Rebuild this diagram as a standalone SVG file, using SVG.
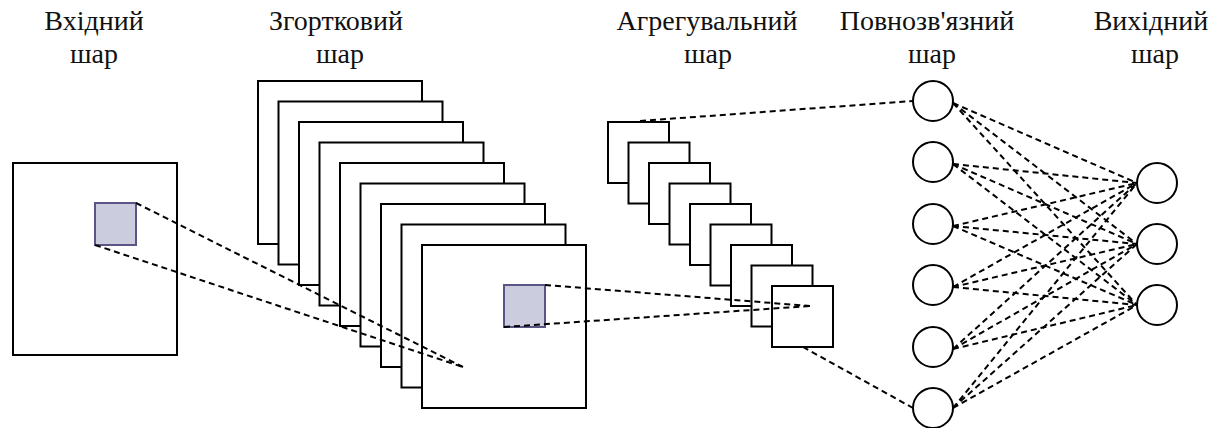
<svg xmlns="http://www.w3.org/2000/svg" width="1223" height="428" viewBox="0 0 1223 428">
  <style>
    .lbl { font-size: 28px; fill: #111; text-anchor: middle; }
    .map { fill: #fff; stroke: #000; stroke-width: 2; }
    .win { fill: #ccccdf; stroke: #5a5585; stroke-width: 2; }
    .unit { fill: #fff; stroke: #000; stroke-width: 2; }
    .link { fill: none; stroke: #000; stroke-width: 2; stroke-dasharray: 6 4; }
  </style>
  <rect width="1223" height="428" fill="#fff"/>

  <!-- layer titles -->
  <g id="titles" font-family="Liberation Serif, Times New Roman, DejaVu Serif, serif">
    <text class="lbl" x="94" y="30">Вхідний</text>
    <text class="lbl" x="94" y="63">шар</text>
    <text class="lbl" x="336" y="30">Згортковий</text>
    <text class="lbl" x="340" y="63">шар</text>
    <text class="lbl" x="707" y="30">Агрегувальний</text>
    <text class="lbl" x="708" y="63">шар</text>
    <text class="lbl" x="927" y="30">Повнозв'язний</text>
    <text class="lbl" x="932" y="63">шар</text>
    <text class="lbl" x="1151" y="30">Вихідний</text>
    <text class="lbl" x="1155" y="63">шар</text>
  </g>

  <!-- input image with receptive field -->
  <g id="input">
    <rect class="map" x="13" y="163" width="164" height="192"/>
    <rect class="win" x="95" y="203" width="41" height="42"/>
  </g>

  <!-- convolution feature maps, back to front -->
  <g id="conv">
    <rect class="map" x="258" y="81" width="164" height="163"/>
    <rect class="map" x="278.5" y="101.5" width="164" height="163"/>
    <rect class="map" x="299" y="122" width="164" height="163"/>
    <rect class="map" x="319.5" y="142.5" width="164" height="163"/>
    <rect class="map" x="340" y="163" width="164" height="163"/>
    <rect class="map" x="360.5" y="183.5" width="164" height="163"/>
    <rect class="map" x="381" y="204" width="164" height="163"/>
    <rect class="map" x="401.5" y="224.5" width="164" height="163"/>
    <rect class="map" x="422" y="245" width="164" height="163"/>
    <rect class="win" x="504" y="285" width="41" height="42"/>
  </g>

  <!-- pooling maps, back to front -->
  <g id="pool">
    <rect class="map" x="608" y="122" width="61" height="61"/>
    <rect class="map" x="628.5" y="142.5" width="61" height="61"/>
    <rect class="map" x="649" y="163" width="61" height="61"/>
    <rect class="map" x="669.5" y="183.5" width="61" height="61"/>
    <rect class="map" x="690" y="204" width="61" height="61"/>
    <rect class="map" x="710.5" y="224.5" width="61" height="61"/>
    <rect class="map" x="731" y="245" width="61" height="61"/>
    <rect class="map" x="751.5" y="265.5" width="61" height="61"/>
    <rect class="map" x="772" y="286" width="61" height="61"/>
  </g>

  <!-- fully connected units -->
  <g id="fc1"><circle class="unit" cx="933" cy="101" r="20"/></g>
  <g id="fc2"><circle class="unit" cx="933" cy="162" r="20"/></g>
  <g id="fc3"><circle class="unit" cx="933" cy="224" r="20"/></g>
  <g id="fc4"><circle class="unit" cx="933" cy="285" r="20"/></g>
  <g id="fc5"><circle class="unit" cx="933" cy="347" r="20"/></g>
  <g id="fc6"><circle class="unit" cx="933" cy="408" r="20"/></g>

  <!-- output units -->
  <g id="out1"><circle class="unit" cx="1157" cy="183" r="20"/></g>
  <g id="out2"><circle class="unit" cx="1157" cy="244" r="20"/></g>
  <g id="out3"><circle class="unit" cx="1157" cy="305" r="20"/></g>

  <!-- connectors -->
  <g id="connectors">
    <line class="link" x1="136" y1="203" x2="463" y2="367"/>
    <line class="link" x1="95" y1="245" x2="463" y2="367"/>
    <line class="link" x1="545" y1="285" x2="810" y2="306"/>
    <line class="link" x1="504" y1="327" x2="810" y2="306"/>
    <line class="link" x1="640" y1="121" x2="913" y2="101"/>
    <line class="link" x1="803" y1="347" x2="913" y2="408"/>

    <line class="link" x1="953" y1="103" x2="1137" y2="183"/>
    <line class="link" x1="953" y1="103" x2="1137" y2="244"/>
    <line class="link" x1="953" y1="103" x2="1137" y2="305"/>
    <line class="link" x1="953" y1="164" x2="1137" y2="183"/>
    <line class="link" x1="953" y1="164" x2="1137" y2="244"/>
    <line class="link" x1="953" y1="164" x2="1137" y2="305"/>
    <line class="link" x1="953" y1="226" x2="1137" y2="183"/>
    <line class="link" x1="953" y1="226" x2="1137" y2="244"/>
    <line class="link" x1="953" y1="226" x2="1137" y2="305"/>
    <line class="link" x1="953" y1="287" x2="1137" y2="183"/>
    <line class="link" x1="953" y1="287" x2="1137" y2="244"/>
    <line class="link" x1="953" y1="287" x2="1137" y2="305"/>
    <line class="link" x1="953" y1="349" x2="1137" y2="183"/>
    <line class="link" x1="953" y1="349" x2="1137" y2="244"/>
    <line class="link" x1="953" y1="349" x2="1137" y2="305"/>
    <line class="link" x1="953" y1="408" x2="1137" y2="183"/>
    <line class="link" x1="953" y1="408" x2="1137" y2="244"/>
    <line class="link" x1="953" y1="408" x2="1137" y2="305"/>
  </g>
</svg>
